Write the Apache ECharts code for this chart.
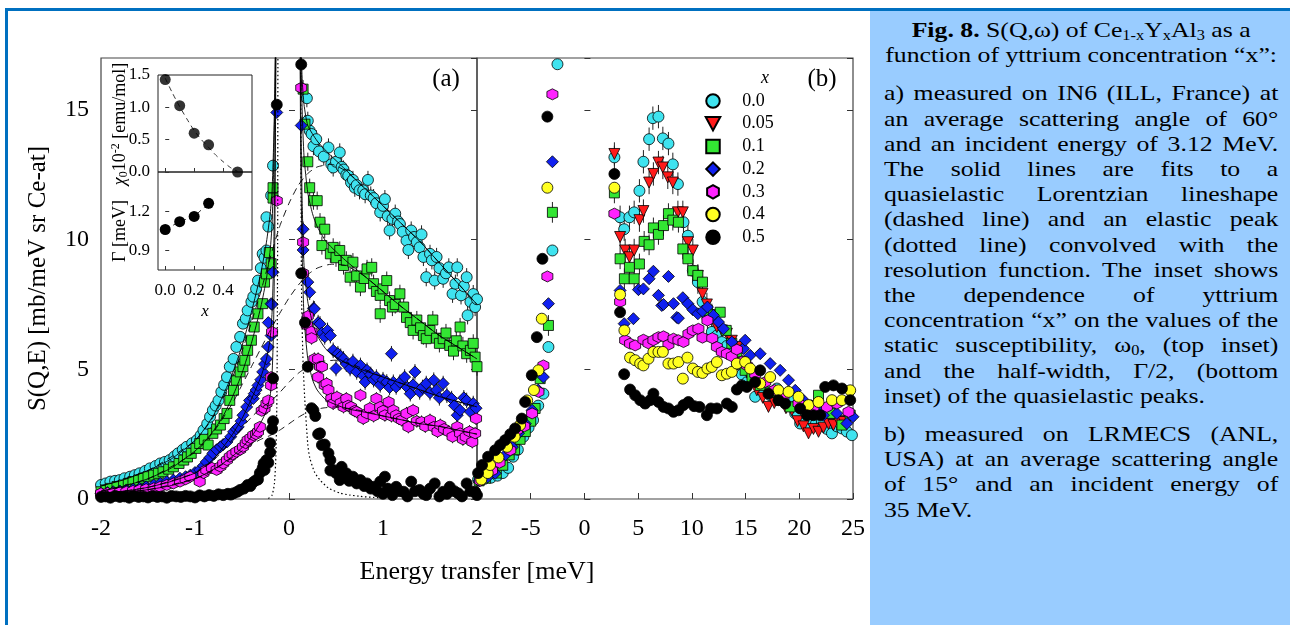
<!DOCTYPE html>
<html>
<head>
<meta charset="utf-8">
<script src="https://cdn.jsdelivr.net/npm/echarts@6/dist/echarts.min.js"></script>
<style>
html,body{margin:0;padding:0;background:#fff;width:1290px;height:625px;overflow:hidden;position:relative}
#topline{position:absolute;left:5px;top:8px;width:1285px;height:3px;background:#0070C0}
#leftline{position:absolute;left:5px;top:8px;width:3px;height:617px;background:#0070C0}
#panel{position:absolute;left:870px;top:11px;width:420px;height:614px;background:#99CCFF}
#chart{position:absolute;left:0;top:0;width:868px;height:625px}
#cap{position:absolute;left:884px;top:17px;width:337px;transform:scaleX(1.17);transform-origin:0 0;font-family:'Liberation Serif','Times New Roman',serif;font-size:22px;line-height:25.2px;color:#000}
#cap .c{text-align:center}
#cap .j{text-align:justify;text-align-last:justify}
#cap .l{text-align:left}
#cap .gap{height:13px}
#cap sub{font-size:14px;line-height:0;vertical-align:-3px}
</style>
</head>
<body>
<div id="panel"></div>
<div id="topline"></div>
<div id="leftline"></div>
<div id="chart"></div>
<div id="cap">
<div class="c"><b>Fig. 8.</b> S(Q,ω) of Ce<sub>1-x</sub>Y<sub>x</sub>Al<sub>3</sub> as a</div>
<div class="c">function of yttrium concentration “x”:</div>
<div class="gap"></div>
<div class="j">a) measured on IN6 (ILL, France) at</div>
<div class="j">an average scattering angle of 60°</div>
<div class="j">and an incident energy of 3.12 MeV.</div>
<div class="j">The solid lines are fits to a</div>
<div class="j">quasielastic Lorentzian lineshape</div>
<div class="j">(dashed line) and an elastic peak</div>
<div class="j">(dotted line) convolved with the</div>
<div class="j">resolution function. The inset shows</div>
<div class="j">the dependence of yttrium</div>
<div class="j">concentration “x” on the values of the</div>
<div class="j">static susceptibility, ω<sub>0</sub>, (top inset)</div>
<div class="j">and the half-width, Γ/2, (bottom</div>
<div class="l">inset) of the quasielastic peaks.</div>
<div class="gap"></div>
<div class="j">b) measured on LRMECS (ANL,</div>
<div class="j">USA) at an average scattering angle</div>
<div class="j">of 15° and an incident energy of</div>
<div class="l">35 MeV.</div>
</div>
<script>
// ---------------- DATA ----------------
const legendNames = ['0.0','0.05','0.1','0.2','0.3','0.4','0.5'];
const insetXTicks = [0,0.2,0.4];
const gammaTicks = [0.9,1.2];

// Panel (a): IN6 data [E, S]
const a_x00 = [[-2.0,0.54],[-1.95,0.6],[-1.9,0.67],[-1.85,0.7],[-1.8,0.73],[-1.75,0.8],[-1.69,0.86],[-1.64,0.92],[-1.59,0.99],[-1.53,1.08],[-1.48,1.18],[-1.42,1.27],[-1.37,1.37],[-1.32,1.43],[-1.27,1.5],[-1.22,1.64],[-1.18,1.76],[-1.13,1.9],[-1.09,2.01],[-1.03,2.15],[-0.98,2.27],[-0.94,2.45],[-0.91,2.65],[-0.87,2.9],[-0.84,3.17],[-0.81,3.42],[-0.78,3.6],[-0.75,3.8],[-0.72,4.13],[-0.69,4.4],[-0.66,4.7],[-0.63,5.1],[-0.59,5.4],[-0.56,5.86],[-0.52,6.25],[-0.49,6.76],[-0.46,6.95],[-0.44,7.27],[-0.40,7.6],[-0.38,7.8],[-0.35,8.1],[-0.33,8.42],[-0.3,8.9],[-0.28,9.45],[-0.26,9.3],[-0.24,9.58],[-0.24,10.86],[-0.22,10.5],[-0.19,11.7],[-0.17,12.85],
[0.19,15.45],[0.2,14.58],[0.22,14.2],[0.24,14.07],[0.26,13.6],[0.29,13.87],[0.32,13.4],[0.37,13.2],[0.42,13.55],[0.45,12.9],[0.47,12.78],[0.5,13.0],[0.54,13.36],[0.56,12.8],[0.58,12.7],[0.61,12.5],[0.63,12.46],[0.66,12.2],[0.68,12.3],[0.7,12.0],[0.72,12.1],[0.75,11.9],[0.79,11.9],[0.81,11.75],[0.84,12.3],[0.87,11.7],[0.9,11.6],[0.93,11.4],[0.97,11.05],[1.0,11.3],[1.02,11.56],[1.05,10.9],[1.07,10.35],[1.1,10.8],[1.13,11.0],[1.16,10.7],[1.18,10.6],[1.21,10.3],[1.25,9.96],[1.27,9.6],[1.3,10.35],[1.33,10.1],[1.36,9.9],[1.39,9.7],[1.41,10.2],[1.43,9.33],[1.46,8.55],[1.5,9.45],[1.52,9.2],[1.55,8.42],[1.57,9.33],[1.6,8.9],[1.64,8.49],[1.67,8.7],[1.7,8.93],[1.74,7.91],[1.77,8.3],[1.79,8.93],[1.83,7.85],[1.86,8.2],[1.89,8.55],[1.90,7.08],[1.93,7.6],[1.96,7.9],[1.98,7.4],[2.0,7.7]];
const a_x01 = [[-2.0,0.28],[-1.95,0.35],[-1.9,0.41],[-1.83,0.48],[-1.76,0.54],[-1.71,0.6],[-1.66,0.67],[-1.6,0.73],[-1.55,0.8],[-1.5,0.86],[-1.44,0.92],[-1.39,0.99],[-1.34,1.05],[-1.28,1.15],[-1.23,1.24],[-1.17,1.37],[-1.12,1.5],[-1.08,1.62],[-1.04,1.76],[-0.99,1.95],[-0.95,2.14],[-0.9,2.3],[-0.86,2.08],[-0.81,2.53],[-0.77,2.7],[-0.73,2.85],[-0.69,3.1],[-0.66,3.3],[-0.63,3.8],[-0.59,4.19],[-0.56,4.58],[-0.52,4.9],[-0.49,5.1],[-0.47,5.35],[-0.44,5.73],[-0.40,6.12],[-0.37,6.63],[-0.33,7.14],[-0.28,7.53],[-0.26,8.36],[-0.24,8.68],[-0.21,9.5],[-0.19,9.07],[-0.17,12.0],[-0.17,11.6],
[0.15,15.8],[0.17,14.45],[0.2,13.0],[0.22,12.0],[0.26,11.5],[0.3,11.5],[0.33,10.67],[0.35,9.77],[0.38,10.4],[0.44,9.45],[0.47,9.7],[0.5,9.3],[0.54,9.58],[0.58,9.0],[0.61,9.2],[0.65,8.55],[0.68,9.13],[0.72,8.6],[0.76,8.17],[0.8,8.5],[0.83,8.87],[0.88,8.93],[0.9,8.3],[0.93,8.0],[0.97,7.85],[0.97,7.14],[1.0,8.1],[1.04,8.42],[1.07,7.65],[1.1,7.4],[1.13,7.5],[1.18,7.91],[1.22,7.4],[1.25,7.0],[1.29,6.8],[1.32,6.5],[1.36,6.9],[1.4,6.6],[1.43,6.3],[1.46,6.18],[1.5,6.5],[1.53,6.9],[1.57,6.2],[1.6,6.0],[1.64,6.18],[1.67,6.4],[1.71,5.92],[1.75,5.7],[1.78,6.1],[1.82,6.63],[1.85,5.9],[1.89,5.6],[1.93,5.73],[1.96,6.0],[1.98,5.47],[2.0,5.1]];
const a_x02 = [[-2.0,0.22],[-1.93,0.25],[-1.87,0.28],[-1.8,0.31],[-1.73,0.35],[-1.66,0.38],[-1.59,0.41],[-1.52,0.47],[-1.44,0.54],[-1.37,0.6],[-1.3,0.67],[-1.23,0.73],[-1.16,0.8],[-1.1,0.86],[-1.05,0.92],[-1.0,1.02],[-0.95,1.12],[-0.91,1.28],[-0.88,1.43],[-0.84,1.6],[-0.81,1.76],[-0.77,1.9],[-0.73,2.01],[-0.7,2.1],[-0.66,2.2],[-0.62,2.4],[-0.59,2.59],[-0.56,2.7],[-0.54,2.78],[-0.51,3.0],[-0.49,3.23],[-0.45,3.55],[-0.42,3.8],[-0.38,3.87],[-0.37,4.06],[-0.35,4.2],[-0.33,4.38],[-0.3,4.6],[-0.28,4.9],[-0.26,5.2],[-0.24,5.4],[-0.22,5.86],[-0.22,6.8],[-0.19,6.3],[-0.19,7.53],[-0.18,7.5],[-0.17,8.74],[-0.13,14.9],
[0.13,14.4],[0.15,10.4],[0.15,9.6],[0.2,8.36],[0.22,7.97],[0.26,7.35],[0.27,7.33],[0.31,6.8],[0.33,6.75],[0.35,6.4],[0.38,6.25],[0.41,6.5],[0.44,6.3],[0.47,5.73],[0.5,5.03],[0.52,5.6],[0.55,5.5],[0.58,5.4],[0.61,5.2],[0.65,5.03],[0.68,5.3],[0.72,4.9],[0.76,5.15],[0.79,4.75],[0.81,4.51],[0.83,4.96],[0.87,4.8],[0.9,4.6],[0.93,4.7],[0.97,4.4],[1.0,4.6],[1.04,4.51],[1.07,4.3],[1.09,5.6],[1.11,4.5],[1.14,4.32],[1.18,4.5],[1.23,4.7],[1.26,4.3],[1.29,4.06],[1.32,4.4],[1.34,4.9],[1.39,4.13],[1.42,4.3],[1.46,4.45],[1.5,4.1],[1.54,4.58],[1.57,4.2],[1.6,3.9],[1.64,4.45],[1.68,4.0],[1.73,3.87],[1.76,3.6],[1.79,3.23],[1.82,3.42],[1.86,3.9],[1.89,3.8],[1.93,3.36],[1.96,3.68],[1.99,3.5]];
const a_x03 = [[-2.0,0.22],[-1.93,0.23],[-1.87,0.24],[-1.8,0.26],[-1.73,0.28],[-1.66,0.31],[-1.59,0.35],[-1.52,0.38],[-1.44,0.41],[-1.37,0.47],[-1.3,0.54],[-1.23,0.6],[-1.16,0.67],[-1.1,0.76],[-1.05,0.86],[-0.95,0.67],[-0.91,1.0],[-0.88,1.12],[-0.82,1.2],[-0.77,1.12],[-0.73,1.25],[-0.7,1.37],[-0.66,1.5],[-0.63,1.63],[-0.6,1.72],[-0.56,1.82],[-0.52,1.9],[-0.49,2.01],[-0.46,2.15],[-0.44,2.27],[-0.41,2.35],[-0.38,2.46],[-0.35,2.5],[-0.33,2.59],[-0.31,2.78],[-0.29,3.4],[-0.26,3.49],[-0.24,3.68],[-0.22,3.8],[-0.19,4.38],[-0.19,4.7],[-0.18,6.44],[-0.13,11.5],
[0.13,15.85],[0.15,9.9],[0.15,8.7],[0.19,6.7],[0.2,7.05],[0.24,6.45],[0.24,6.2],[0.27,5.4],[0.31,5.4],[0.31,4.7],[0.33,5.1],[0.35,5.1],[0.38,4.38],[0.4,4.45],[0.42,4.2],[0.45,3.87],[0.47,3.68],[0.51,3.93],[0.55,3.7],[0.58,3.55],[0.61,3.87],[0.63,3.6],[0.66,3.55],[0.7,3.4],[0.72,3.36],[0.76,4.0],[0.79,3.1],[0.83,3.3],[0.86,3.5],[0.9,3.2],[0.93,3.87],[0.97,3.55],[1.0,3.4],[1.02,3.23],[1.06,3.74],[1.09,3.2],[1.11,3.42],[1.14,3.23],[1.17,3.1],[1.2,3.04],[1.25,3.3],[1.27,2.78],[1.32,3.42],[1.36,3.0],[1.41,2.97],[1.45,2.8],[1.5,3.04],[1.54,2.78],[1.58,2.6],[1.61,2.85],[1.65,2.7],[1.7,2.59],[1.74,2.4],[1.79,2.78],[1.82,2.53],[1.85,2.3],[1.88,2.4],[1.92,2.6],[1.95,2.2],[1.98,2.53],[1.99,3.1]];
const a_x05 = [[-2.0,0.08],[-1.95,0.1],[-1.9,0.05],[-1.85,0.12],[-1.8,0.08],[-1.75,0.1],[-1.7,0.05],[-1.65,0.12],[-1.6,0.08],[-1.55,0.1],[-1.5,0.06],[-1.45,0.12],[-1.4,0.08],[-1.35,0.1],[-1.3,0.05],[-1.25,0.12],[-1.2,0.1],[-1.15,0.08],[-1.1,0.12],[-1.05,0.1],[-1.0,0.06],[-0.95,0.14],[-0.9,0.1],[-0.85,0.15],[-0.8,0.12],[-0.75,0.18],[-0.7,0.15],[-0.65,0.2],[-0.62,0.17],[-0.59,0.22],[-0.55,0.28],[-0.52,0.35],[-0.48,0.4],[-0.44,0.54],[-0.41,0.5],[-0.38,0.65],[-0.35,0.73],[-0.33,0.75],[-0.31,1.0],[-0.28,1.2],[-0.27,1.37],[-0.26,1.12],[-0.24,1.5],[-0.22,1.4],[-0.2,1.8],[-0.2,2.15],[-0.18,2.7],[-0.17,3.0],[-0.17,4.65],[-0.13,15.2],
[0.13,16.75],[0.13,8.7],[0.17,6.8],[0.2,5.1],[0.24,3.5],[0.26,3.42],[0.28,3.2],[0.31,2.5],[0.33,2.53],[0.35,2.08],[0.38,2.1],[0.42,1.76],[0.44,1.5],[0.44,1.1],[0.47,1.12],[0.5,1.0],[0.54,0.73],[0.56,1.24],[0.58,0.85],[0.61,0.99],[0.64,0.7],[0.68,0.86],[0.72,0.6],[0.76,0.73],[0.8,0.5],[0.83,0.6],[0.87,0.4],[0.9,0.47],[0.94,0.3],[0.97,0.67],[1.0,0.2],[1.02,0.86],[1.05,0.4],[1.07,0.35],[1.1,0.15],[1.14,0.47],[1.18,0.3],[1.22,0.28],[1.26,0.1],[1.3,0.67],[1.34,0.3],[1.39,0.35],[1.43,0.2],[1.46,0.15],[1.5,0.4],[1.55,0.6],[1.6,0.1],[1.64,0.28],[1.68,0.2],[1.71,0.47],[1.76,0.3],[1.8,0.22],[1.84,0.1],[1.89,0.6],[1.93,0.3],[1.98,0.28],[2.0,0.15]];

// Panel (a) fits: solid = total fit, dashed = quasielastic, dotted = elastic
const fit_x00 = [[-2,0.5],[-1.75,0.75],[-1.5,1.1],[-1.25,1.55],[-1,2.25],[-0.9,2.7],[-0.8,3.25],[-0.7,4.0],[-0.6,4.85],[-0.5,5.9],[-0.4,7.2],[-0.3,8.7],[-0.24,9.9],[-0.2,11.0],[-0.18,11.9],[-0.165,13.5],[-0.15,16],[-0.13,22],[0,60],[0.11,22],[0.125,18],[0.14,16.2],[0.16,15.2],[0.2,14.4],[0.3,13.8],[0.4,13.4],[0.6,12.7],[0.8,12.0],[1.0,11.3],[1.2,10.6],[1.4,9.9],[1.6,9.1],[1.8,8.3],[2.0,7.5]];
const fit_x01 = [[-2,0.3],[-1.75,0.5],[-1.5,0.78],[-1.25,1.2],[-1,1.85],[-0.9,2.2],[-0.8,2.65],[-0.7,3.2],[-0.6,3.95],[-0.5,4.85],[-0.4,6.0],[-0.3,7.4],[-0.24,8.5],[-0.2,9.6],[-0.18,10.6],[-0.165,12.5],[-0.15,15.5],[-0.13,22],[0,60],[0.11,22],[0.125,17.5],[0.14,15],[0.16,13.2],[0.2,11.8],[0.25,11.0],[0.3,10.5],[0.4,9.9],[0.6,9.2],[0.8,8.6],[1.0,8.0],[1.2,7.4],[1.4,6.85],[1.6,6.3],[1.8,5.85],[2.0,5.4]];
const fit_x02 = [[-2,0.2],[-1.75,0.3],[-1.5,0.45],[-1.25,0.68],[-1,1.0],[-0.9,1.25],[-0.8,1.55],[-0.7,2.0],[-0.6,2.5],[-0.5,3.1],[-0.4,3.85],[-0.3,4.7],[-0.24,5.4],[-0.2,6.2],[-0.18,7.2],[-0.165,9.0],[-0.15,13],[-0.13,22],[0,60],[0.11,22],[0.125,15],[0.14,11.5],[0.16,9.0],[0.2,7.6],[0.25,6.8],[0.3,6.3],[0.4,5.75],[0.6,5.25],[0.8,4.95],[1.0,4.7],[1.2,4.45],[1.4,4.2],[1.6,3.95],[1.8,3.75],[2.0,3.55]];
const fit_x03 = [[-2,0.2],[-1.75,0.26],[-1.5,0.36],[-1.25,0.52],[-1,0.78],[-0.9,0.95],[-0.8,1.15],[-0.7,1.38],[-0.6,1.65],[-0.5,1.98],[-0.4,2.4],[-0.3,2.95],[-0.24,3.4],[-0.2,4.0],[-0.18,4.8],[-0.165,6.5],[-0.15,10.5],[-0.13,22],[0,60],[0.11,22],[0.125,13],[0.14,9.5],[0.16,7.0],[0.2,5.4],[0.25,4.6],[0.3,4.2],[0.4,3.8],[0.6,3.5],[0.8,3.35],[1.0,3.2],[1.2,3.05],[1.4,2.9],[1.6,2.8],[1.8,2.65],[2.0,2.5]];
const qe_x00 = [[-2,0.5],[-1.5,1.1],[-1,2.25],[-0.8,3.2],[-0.6,4.7],[-0.5,5.7],[-0.4,6.8],[-0.3,8.0],[-0.2,9.3],[-0.1,10.5],[0,11.4],[0.1,12.1],[0.2,12.55],[0.3,12.8],[0.45,12.9],[0.6,12.65],[0.8,12.0],[1.0,11.3],[1.2,10.6],[1.4,9.9],[1.6,9.1],[1.8,8.3],[2.0,7.5]];
const qe_x01 = [[-2,0.3],[-1.5,0.78],[-1,1.8],[-0.8,2.6],[-0.6,3.7],[-0.5,4.4],[-0.4,5.1],[-0.3,5.8],[-0.2,6.5],[-0.1,7.15],[0,7.75],[0.1,8.25],[0.2,8.65],[0.3,8.9],[0.45,9.05],[0.6,9.0],[0.8,8.6],[1.0,8.0],[1.2,7.4],[1.4,6.85],[1.6,6.3],[1.8,5.85],[2.0,5.4]];
const qe_x02 = [[-2,0.2],[-1.5,0.45],[-1,1.0],[-0.8,1.5],[-0.6,2.3],[-0.5,2.75],[-0.4,3.15],[-0.3,3.5],[-0.2,3.75],[-0.1,4.1],[0,4.5],[0.1,4.85],[0.2,5.1],[0.35,5.3],[0.5,5.35],[0.7,5.15],[0.9,4.85],[1.0,4.7],[1.2,4.45],[1.4,4.2],[1.6,3.95],[1.8,3.75],[2.0,3.55]];
const qe_x03 = [[-2,0.2],[-1.5,0.36],[-1,0.78],[-0.8,1.12],[-0.6,1.6],[-0.5,1.85],[-0.4,2.1],[-0.3,2.3],[-0.2,2.45],[-0.1,2.65],[0,2.9],[0.1,3.15],[0.2,3.35],[0.35,3.5],[0.5,3.55],[0.7,3.45],[0.9,3.3],[1.0,3.2],[1.2,3.05],[1.4,2.9],[1.6,2.8],[1.8,2.65],[2.0,2.5]];
const elastic = [[-0.22,0.02],[-0.18,0.15],[-0.155,0.6],[-0.14,1.6],[-0.13,3.5],[-0.125,6],[-0.12,11],[-0.115,20],[0,60],[0.12,20],[0.13,10],[0.135,7.5],[0.15,5.2],[0.17,3.7],[0.2,2.1],[0.22,1.6],[0.27,1.05],[0.33,0.73],[0.42,0.42],[0.54,0.23],[0.65,0.15],[0.76,0.1],[0.9,0.06],[1.0,0.04]];

// Panel (b): LRMECS data [E, S]
const b_x00 = [[-9.9,0.75],[-9.3,0.78],[-8.7,0.82],[-8.1,0.9],[-7.6,1.0],[-7.1,1.2],[-6.64,1.63],[-6.2,1.9],[-5.68,2.4],[-5.2,2.75],[-4.78,3.04],[-4.3,3.6],[-3.82,4.06],[-3.35,5.86],[-2.98,9.58],[-2.51,16.76],
[2.79,13.17],[3.32,10.86],[3.7,10.4],[4.19,10.86],[4.63,11.05],[5.12,11.88],[5.49,13.0],[6.02,13.87],[6.37,14.68],[6.89,14.74],[7.3,13.9],[7.82,13.7],[8.23,12.9],[8.7,12.14],[9.22,10.67],[9.63,10.15],[10.09,8.8],[10.56,8.36],[11.0,7.6],[11.45,7.0],[11.86,6.44],[12.33,6.3],[12.79,6.05],[13.26,5.9],[13.72,5.73],[14.19,5.2],[14.66,4.8],[15.12,4.5],[15.89,3.94],[16.67,4.19],[17.29,4.0],[17.91,4.26],[18.53,3.9],[19.15,3.94],[19.62,3.3],[20.08,2.91],[20.55,3.0],[21.0,2.85],[21.55,2.9],[22.1,2.97],[22.57,2.7],[23.04,2.53],[23.5,2.8],[23.97,2.72],[24.43,2.6],[24.9,2.46]];
const b_x005 = [[2.79,13.3],[3.32,10.1],[3.79,9.58],[4.19,9.32],[4.63,9.58],[5.12,10.75],[5.49,11.1],[6.02,12.2],[6.42,12.53],[6.89,12.97],[7.3,12.78],[7.76,12.4],[8.23,12.2],[8.7,11.05],[9.16,11.05],[9.63,9.9],[10.09,9.58],[10.56,8.6],[10.99,7.91],[11.4,7.5],[11.86,7.08],[12.33,6.63],[12.79,6.5],[13.26,6.37],[13.72,6.1],[14.19,5.86],[14.66,5.3],[15.12,4.9],[15.59,4.5],[16.05,4.19],[16.6,3.9],[17.13,3.55],[17.67,3.7],[18.22,3.81],[18.76,3.5],[19.31,3.42],[19.84,3.0],[20.39,2.8],[20.86,2.53],[21.32,2.7],[21.79,2.59],[22.25,2.75],[22.72,2.9],[23.18,2.85],[23.65,3.0],[24.12,2.97],[24.6,3.1]];
const b_x01 = [[-9.8,0.7],[-9.2,0.8],[-8.78,1.12],[-8.2,1.0],[-7.6,1.3],[-7.0,1.7],[-6.5,1.9],[-5.99,2.3],[-5.5,2.6],[-5.0,3.0],[-4.59,3.49],[-4.12,4.64],[-3.35,6.69],[-2.98,11.05],
[2.79,11.8],[3.32,9.26],[3.72,8.49],[4.19,8.93],[4.63,8.49],[5.12,9.06],[5.56,9.93],[6.02,9.8],[6.42,10.45],[6.89,10.2],[7.36,10.54],[7.82,11.0],[8.23,10.75],[8.75,10.67],[9.16,9.64],[9.63,9.26],[10.09,8.8],[10.56,8.62],[10.99,8.36],[11.45,7.27],[12.0,7.1],[12.64,7.2],[13.2,6.5],[13.72,6.0],[14.19,5.67],[14.96,4.96],[15.6,4.7],[16.36,4.38],[17.29,4.13],[18.2,3.8],[19.15,3.55],[20.39,3.49],[21.1,3.6],[21.79,4.0],[22.88,3.3],[23.97,2.85],[24.74,3.23]];
const b_x02 = [[-9.8,0.7],[-9.0,0.85],[-8.31,0.99],[-7.38,1.69],[-6.7,2.0],[-6.15,2.53],[-5.5,2.9],[-4.87,3.42],[-4.3,4.2],[-3.82,4.7],[-3.35,7.53],[-2.98,13.0],
[3.32,8.04],[3.7,6.76],[4.56,6.95],[5.03,8.07],[5.49,8.1],[6.02,8.49],[6.42,8.78],[6.89,7.85],[7.2,7.46],[7.36,7.5],[7.82,8.58],[8.29,7.53],[8.6,7.0],[8.75,6.97],[9.16,7.76],[9.63,7.53],[10.09,7.3],[10.56,7.14],[10.99,7.24],[11.45,7.4],[12.0,7.08],[12.48,6.82],[12.94,6.56],[13.72,6.05],[14.8,5.8],[14.96,6.12],[15.43,5.54],[16.36,5.6],[17.29,5.22],[18.22,4.96],[19.0,4.58],[19.62,4.19],[20.39,3.81],[21.1,3.6],[21.79,3.42],[22.25,3.23],[23.5,3.3],[24.43,2.91],[25.0,3.17]];
const b_x03 = [[-9.7,0.7],[-9.25,1.24],[-8.6,1.1],[-7.9,1.4],[-6.9,1.88],[-6.29,2.65],[-5.6,2.8],[-4.87,3.3],[-4.28,4.13],[-3.82,5.15],[-3.45,8.58],[-2.98,15.6],
[2.79,11.0],[3.32,7.6],[3.79,6.12],[4.25,5.99],[4.72,5.92],[5.49,6.14],[5.96,6.0],[6.42,6.12],[6.89,6.24],[7.36,6.27],[7.82,5.95],[8.29,6.18],[8.75,6.12],[9.22,6.05],[9.68,6.37],[10.09,6.5],[10.61,6.56],[10.99,6.22],[11.45,6.88],[11.9,6.2],[12.33,5.86],[12.79,5.67],[13.26,5.6],[13.72,5.5],[14.19,5.76],[14.66,5.3],[15.12,5.15],[15.9,4.8],[16.83,4.51],[17.7,4.2],[18.53,3.94],[19.93,3.68],[20.6,3.5],[21.32,3.42],[22.57,3.55],[23.5,3.68],[24.58,3.36]];
const b_x04 = [[-9.6,0.75],[-9.0,1.0],[-8.78,1.31],[-8.0,1.6],[-7.2,2.01],[-6.5,2.4],[-5.99,2.85],[-5.33,3.8],[-4.7,4.2],[-4.28,4.96],[-3.97,6.95],[-3.45,12.0],
[2.79,12.0],[3.32,7.88],[3.72,6.5],[4.25,5.45],[4.72,5.35],[5.19,5.22],[5.49,5.15],[5.96,5.41],[6.42,5.67],[6.89,5.67],[7.3,5.67],[7.82,5.22],[8.29,5.22],[8.75,5.28],[9.16,4.64],[9.59,5.45],[10.09,5.03],[10.56,4.9],[10.99,4.86],[11.45,5.03],[11.86,5.09],[12.33,5.28],[12.79,4.77],[13.26,4.83],[13.72,4.9],[14.19,5.22],[14.96,5.28],[15.43,5.03],[16.36,4.45],[17.29,4.7],[18.06,4.19],[19.0,4.13],[19.93,3.94],[20.86,3.62],[21.79,3.74],[23.04,3.81],[23.97,3.81],[24.74,4.19]];
const b_x05 = [[-9.9,1.0],[-9.53,1.31],[-8.97,1.63],[-8.31,1.88],[-7.85,2.08],[-7.38,2.27],[-6.9,2.5],[-6.45,2.72],[-5.83,3.1],[-5.52,3.74],[-4.9,4.77],[-4.43,6.24],[-3.91,9.26],[-3.45,14.74],
[2.79,12.53],[3.32,7.2],[3.7,4.81],[4.25,4.22],[4.72,4.0],[5.19,3.81],[5.65,3.68],[6.12,3.81],[6.42,4.06],[6.89,3.74],[7.36,3.55],[7.82,3.49],[8.29,3.36],[8.75,3.42],[9.22,3.62],[9.68,3.74],[10.21,3.58],[10.71,3.55],[11.4,3.23],[11.77,3.49],[12.33,3.49],[13.26,3.68],[13.72,3.55],[14.19,4.22],[14.66,4.38],[15.12,4.32],[15.89,4.51],[16.36,4.96],[17.13,4.06],[18.06,3.81],[18.69,3.68],[20.08,3.49],[20.71,3.23],[21.32,3.23],[21.95,3.23],[22.41,4.32],[23.18,4.38],[23.97,4.26],[24.74,3.81]];

// Inset data
const insetX = [0,0.1,0.2,0.3,0.5];
const chi0 = [1.43,1.025,0.60,0.42,0.0];
const chiFit = [[0,1.45],[0.05,1.22],[0.1,1.01],[0.15,0.82],[0.2,0.64],[0.25,0.5],[0.3,0.38],[0.35,0.26],[0.4,0.16],[0.45,0.07],[0.5,0.01]];
const gammaX = [0,0.1,0.2,0.3];
const gamma = [1.06,1.12,1.16,1.26];
const gammaErr = [0.02,0.02,0.03,0.04];

// error bar half-widths (per series)
const errA = {x00:0.35, x01:0.35, x02:0.3, x03:0.25};
const errB = {x00:0.45, x005:0.45, x01:0.4};

// ---------------- CHART ----------------
const F = 'Liberation Serif';
const COL = {x00:'#3fe3ef', x005:'#ff1a1a', x01:'#33e633', x02:'#1020f0', x03:'#ff22ff', x04:'#ffff22', x05:'#000000'};
const SYM = {
  x00:'circle', x005:'path://M-1,-0.9L1,-0.9L0,0.95Z', x01:'path://M-1,-1L1,-1L1,1L-1,1Z', x02:'path://M0,-1L1,0L0,1L-1,0Z',
  x03:'path://M0,-1L0.87,-0.5L0.87,0.5L0,1L-0.87,0.5L-0.87,-0.5Z', x04:'circle', x05:'circle'
};
const SIZE = {x00:11, x005:11, x01:10, x02:12, x03:11, x04:11, x05:11};

function sc(key, name, data, xi, yi){
  return {type:'scatter', name, data, xAxisIndex:xi, yAxisIndex:yi, symbol:SYM[key], symbolSize:SIZE[key],
    itemStyle:{color:COL[key], borderColor:'#000', borderWidth:0.8, opacity:1}, z:3, silent:true, emphasis:{disabled:true}};
}
function ln(data, type, xi, yi, w){
  return {type:'line', data, xAxisIndex:xi, yAxisIndex:yi, symbol:'none', showSymbol:false, smooth:0.2, silent:true, z:5,
    lineStyle:{color:'#000', width:w||0.9, type}, emphasis:{disabled:true}};
}
function err(data, e, xi, yi, cond){
  const d = data.filter(p=>cond(p)).map(p=>[p[0], p[1]-e, p[1]+e]);
  return {type:'custom', data:d, xAxisIndex:xi, yAxisIndex:yi, silent:true, z:2,
    renderItem:(params, api)=>{
      const a = api.coord([api.value(0), api.value(1)]);
      const b = api.coord([api.value(0), api.value(2)]);
      return {type:'line', shape:{x1:a[0], y1:a[1], x2:b[0], y2:b[1]}, style:{stroke:'#222', lineWidth:1}};
    }};
}

const tick = {inside:true, length:6, lineStyle:{color:'#333', width:1}};
const lbl = {show:true, fontFamily:F, fontSize:24, color:'#000'};
function ax(extra){ return Object.assign({type:'value', axisLine:{show:false}, splitLine:{show:false}, axisTick:tick, axisLabel:{show:false}}, extra); }

const chart = echarts.init(document.getElementById('chart'));
const option = {
  animation:false,
  textStyle:{fontFamily:F},
  grid:[
    {left:101, top:58, width:376, height:441, show:true, borderColor:'#444', borderWidth:1.2},
    {left:477, top:58, width:376, height:441, show:true, borderColor:'#444', borderWidth:1.2},
    {left:158, top:75, width:94, height:97, show:true, borderColor:'#222', borderWidth:1},
    {left:158, top:172, width:94, height:98, show:true, borderColor:'#222', borderWidth:1}
  ],
  xAxis:[
    ax({gridIndex:0, min:-2, max:2, interval:1, axisLabel:Object.assign({}, lbl, {margin:18})}),
    ax({gridIndex:1, min:-10, max:25, interval:5, axisLabel:Object.assign({}, lbl, {margin:18, showMinLabel:false})}),
    ax({gridIndex:2, min:-0.05, max:0.6, axisTick:Object.assign({}, tick, {length:4, customValues:insetXTicks})}),
    ax({gridIndex:3, min:-0.05, max:0.6, axisTick:Object.assign({}, tick, {length:4, customValues:insetXTicks}),
        axisLabel:{show:true, fontFamily:F, fontSize:17, color:'#000', margin:12, customValues:insetXTicks, formatter:v=>Number(v).toFixed(1)}})
  ],
  yAxis:[
    ax({gridIndex:0, min:0, max:17, interval:5, position:'left',
        axisLabel:Object.assign({}, lbl, {margin:12, showMaxLabel:false}),
        name:'S(Q,E) [mb/meV sr Ce-at]', nameLocation:'middle', nameGap:50,
        nameTextStyle:{fontFamily:F, fontSize:25, color:'#000'}}),
    ax({gridIndex:0, min:0, max:17, interval:5, position:'right'}),
    ax({gridIndex:1, min:0, max:17, interval:5, position:'left'}),
    ax({gridIndex:1, min:0, max:17, interval:5, position:'right'}),
    ax({gridIndex:2, min:0, max:1.5, interval:0.5, axisTick:Object.assign({}, tick, {length:4}),
        axisLabel:{show:true, fontFamily:F, fontSize:17, color:'#000', margin:8, formatter:v=>Number(v).toFixed(1)}}),
    ax({gridIndex:3, min:0.75, max:1.5, axisTick:Object.assign({}, tick, {length:4, customValues:gammaTicks}),
        axisLabel:{show:true, fontFamily:F, fontSize:17, color:'#000', margin:8, customValues:gammaTicks, formatter:v=>Number(v).toFixed(1)}})
  ],
  legend:{
    data:legendNames, orient:'vertical', left:704.7, top:92, itemWidth:48.6, itemHeight:13.5, itemGap:4.7,
    symbolKeepAspect:true, padding:0, selectedMode:false, textStyle:{fontFamily:F, fontSize:18, color:'#000'}
  },
  graphic:[
    {type:'text', x:446, y:79, style:{text:'(a)', fontFamily:F, fontSize:25, fill:'#000', align:'center', verticalAlign:'middle'}},
    {type:'text', x:822, y:79, style:{text:'(b)', fontFamily:F, fontSize:25, fill:'#000', align:'center', verticalAlign:'middle'}},
    {type:'text', x:765, y:78, style:{text:'x', fontFamily:F, fontStyle:'italic', fontSize:18, fill:'#000', align:'center', verticalAlign:'middle'}},
    {type:'text', x:205, y:312, style:{text:'x', fontFamily:F, fontStyle:'italic', fontSize:17, fill:'#000', align:'center', verticalAlign:'middle'}},
    {type:'text', x:477, y:572, style:{text:'Energy transfer [meV]', fontFamily:F, fontSize:26, fill:'#000', align:'center', verticalAlign:'middle'}},
    {type:'text', x:120, y:124, rotation:Math.PI/2, style:{
      text:'{i|χ}{s|0}{n|10}{p|-2}{n| [emu/mol]}', align:'center', verticalAlign:'middle', fill:'#000',
      rich:{i:{fontFamily:F, fontStyle:'italic', fontSize:18, lineHeight:20}, n:{fontFamily:F, fontSize:18, lineHeight:20},
            s:{fontFamily:F, fontSize:12, verticalAlign:'bottom', lineHeight:12}, p:{fontFamily:F, fontSize:12, verticalAlign:'top', lineHeight:12}}}},
    {type:'text', x:120, y:231, rotation:Math.PI/2, style:{text:'Γ [meV]', fontFamily:F, fontSize:18, fill:'#000', align:'center', verticalAlign:'middle'}}
  ],
  series:[
    err(a_x00, errA.x00, 0, 0, p=>p[0]>0),
    err(a_x01, errA.x01, 0, 0, p=>p[0]>0),
    err(a_x02, errA.x02, 0, 0, p=>p[0]>0),
    err(a_x03, errA.x03, 0, 0, p=>p[0]>0),
    sc('x00','0.0', a_x00, 0, 0),
    sc('x01','0.1', a_x01, 0, 0),
    sc('x02','0.2', a_x02, 0, 0),
    sc('x03','0.3', a_x03, 0, 0),
    sc('x05','0.5', a_x05, 0, 0),
    ln(fit_x00, 'solid', 0, 0), ln(fit_x01, 'solid', 0, 0), ln(fit_x02, 'solid', 0, 0), ln(fit_x03, 'solid', 0, 0),
    ln(qe_x00, [7,5], 0, 0), ln(qe_x01, [7,5], 0, 0), ln(qe_x02, [7,5], 0, 0), ln(qe_x03, [7,5], 0, 0),
    ln(elastic, [1.5,2.5], 0, 0, 1.2),
    err(b_x00, errB.x00, 1, 2, p=>p[0]>2 && p[0]<12),
    err(b_x005, errB.x005, 1, 2, p=>p[0]>2 && p[0]<12),
    err(b_x01, errB.x01, 1, 2, p=>p[0]>-4 && p[0]<12),
    sc('x00','0.0', b_x00, 1, 2),
    sc('x005','0.05', b_x005, 1, 2),
    sc('x01','0.1', b_x01, 1, 2),
    sc('x02','0.2', b_x02, 1, 2),
    sc('x03','0.3', b_x03, 1, 2),
    sc('x04','0.4', b_x04, 1, 2),
    sc('x05','0.5', b_x05, 1, 2),
    ln(chiFit, [5,4], 2, 4, 0.8),
    {type:'scatter', data:insetX.map((x,i)=>[x, chi0[i]]), xAxisIndex:2, yAxisIndex:4, symbol:'circle', symbolSize:11,
      itemStyle:{color:'#000'}, z:6, silent:true},
    {type:'custom', data:gammaX.map((x,i)=>[x, gamma[i]-gammaErr[i], gamma[i]+gammaErr[i]]), xAxisIndex:3, yAxisIndex:5, silent:true, z:4,
      renderItem:(params, api)=>{
        const a = api.coord([api.value(0), api.value(1)]);
        const b = api.coord([api.value(0), api.value(2)]);
        return {type:'line', shape:{x1:a[0], y1:a[1], x2:b[0], y2:b[1]}, style:{stroke:'#000', lineWidth:1}};
      }},
    {type:'line', data:gammaX.map((x,i)=>[x, gamma[i]]), xAxisIndex:3, yAxisIndex:5, symbol:'circle', symbolSize:11, showSymbol:true,
      itemStyle:{color:'#000'}, lineStyle:{color:'#000', width:0.8, type:[5,4]}, z:6, silent:true}
  ]
};
chart.setOption(option);
</script>
</body>
</html>
